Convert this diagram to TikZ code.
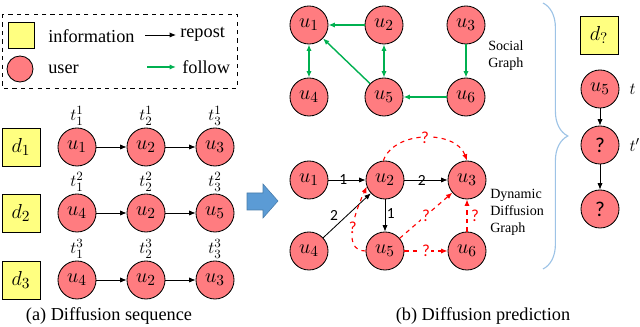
\documentclass[tikz,border=0pt]{standalone}
\usepackage{fontspec}
\setmainfont{Liberation Serif}
\newfontfamily\calibri{Carlito}
\usepackage{amsmath}
\usetikzlibrary{positioning, arrows.meta, decorations.pathreplacing, calc}
\definecolor{UserRed}{RGB}{255,124,128}
\definecolor{InfoYellow}{RGB}{255,255,128}
\definecolor{FollowGreen}{RGB}{0,176,80}
\definecolor{ArrowBlue}{RGB}{91,155,213}
\definecolor{BraceBlue}{RGB}{157,195,230}

\tikzset{
  user/.style={circle, draw, line width=0.6pt, fill=UserRed, minimum size=0.95cm, inner sep=0pt, font=\fontsize{15}{17}\selectfont},
  info/.style={draw, line width=0.6pt, fill=InfoYellow, minimum size=0.95cm, inner sep=0pt, font=\fontsize{15}{17}\selectfont},
  repost/.style={-{Latex[length=1.6mm, width=1.3mm]}, line width=0.6pt},
  follow/.style={-{Latex[length=1.6mm, width=1.3mm]}, FollowGreen, line width=1pt},
  twoway/.style={follow, {Latex[length=1.6mm, width=1.3mm]}-{Latex[length=1.6mm, width=1.3mm]}},
  guess/.style={-{Latex[length=1.6mm, width=1.3mm]}, red, dashed, line width=0.8pt},
  weight/.style={font=\calibri\fontsize{11}{13}\selectfont, inner sep=1pt},
  qmark/.style={text=red, font=\calibri\fontsize{12}{14}\selectfont, inner sep=0.5pt, fill=white},
  stamp/.style={inner sep=0pt, font=\fontsize{13}{15}\selectfont},
  plain/.style={font=\fontsize{13}{15}\selectfont, inner sep=0pt},
  small/.style={font=\fontsize{10}{12}\selectfont, inner sep=0pt, align=left}
}

\begin{document}
\begin{tikzpicture}[x=0.025cm, y=0.025cm]
  \useasboundingbox (0,0) rectangle (640,-327);

  % legend
  \draw[dashed, line width=0.6pt] (2,-14) rectangle (237,-88);
  \node[info, minimum size=0.65cm] (leginfo) at (21,-35) {};
  \node[user, minimum size=0.65cm] (leguser) at (20,-69) {};
  \node[plain, anchor=west] (leginfotext) at (48,-36) {information};
  \node[plain, anchor=west] (legusertext) at (48,-69) {user};
  \coordinate (rp1) at (145,-35);
  \coordinate (rp2) at (176,-35);
  \coordinate (fw1) at (147,-67);
  \coordinate (fw2) at (176,-67);
  \draw[repost] (rp1) -- (rp2);
  \draw[follow] (fw1) -- (fw2);
  \node[plain, anchor=west] (legrepost) at (180,-34) {repost};
  \node[plain, anchor=west] (legfollow) at (182,-67) {follow};

  % (a) diffusion sequences
  \foreach \r/\y/\a/\b/\c in {1/147/1/2/3, 2/213/4/2/5, 3/280/4/2/3} {
    \node[info] (d\r) at (21,-\y) {$d_\r$};
    \node[user] (s\r1) at (77,-\y) {$u_\a$};
    \node[user] (s\r2) at (146,-\y) {$u_\b$};
    \node[user] (s\r3) at (215,-\y) {$u_\c$};
    \foreach \k in {1,2,3}
      \node[stamp, above=1.5pt of s\r\k] (t\r\k) {$t_\k^\r$};
    \draw[repost] (s\r1) -- (s\r2);
    \draw[repost] (s\r2) -- (s\r3);
  }
  \node[plain] (capa) at (109,-316) {(a) Diffusion sequence};

  % big arrow
  \filldraw[fill=ArrowBlue, draw=ArrowBlue!80!black, line width=0.4pt]
    (247,-193) -- (263,-193) -- (263,-184) -- (278,-201) -- (263,-218) -- (263,-210) -- (247,-210) -- cycle;

  % social graph
  \node[user] (a1) at (309,-25) {$u_1$};
  \node[user] (a2) at (384,-25) {$u_2$};
  \node[user] (a3) at (466,-25) {$u_3$};
  \node[user] (a4) at (309,-97) {$u_4$};
  \node[user] (a5) at (384,-97) {$u_5$};
  \node[user] (a6) at (466,-97) {$u_6$};
  \draw[follow] (a2) -- (a1);
  \draw[follow] (a5) -- (a1);
  \draw[twoway] (a1) -- (a4);
  \draw[twoway] (a2) -- (a5);
  \draw[follow] (a3) -- (a6);
  \draw[follow] (a6) -- (a5);
  \node[small, anchor=west] (social) at (488,-56) {Social\\Graph};

  % dynamic diffusion graph
  \node[user] (b1) at (309,-180) {$u_1$};
  \node[user] (b2) at (385,-180) {$u_2$};
  \node[user] (b3) at (467,-180) {$u_3$};
  \node[user] (b4) at (309,-251) {$u_4$};
  \node[user] (b5) at (385,-251) {$u_5$};
  \node[user] (b6) at (467,-251) {$u_6$};
  \draw[repost] (b1) -- node[weight, pos=0.4] {1} (b2);
  \draw[repost] (b2) -- node[weight, pos=0.4] {2} (b3);
  \draw[repost] (b2) -- node[weight, right, pos=0.45] {1} (b5);
  \draw[repost] (b4) -- node[weight, above left, pos=0.35] {2} (b2);
  \draw[guess] (b2.95) to[out=70, in=110] node[qmark, pos=0.5] {?} (b3.90);
  \draw[guess] (b5.west) to[out=180, in=245] node[qmark, pos=0.5] {?} (b2.200);
  \draw[guess] (b5) -- node[qmark, pos=0.5] {?} (b3);
  \draw[guess] (b5) -- node[qmark, pos=0.5] {?} (b6);
  \draw[guess] (b6) -- node[qmark, right=2pt, pos=0.5] {?} (b3);
  \node[small, anchor=west] (dynamic) at (490,-212) {Dynamic\\Diffusion\\Graph};
  \node[plain] (capb) at (483,-316) {(b) Diffusion prediction};

  % brace
  \draw[BraceBlue, line width=0.8pt, decorate, decoration={brace, amplitude=0.62cm}] (543,-3) -- (543,-269);

  % prediction
  \node[info] (dq) at (599,-35) {$d_?$};
  \node[user] (r1) at (600,-89) {$u_5$};
  \node[user] (r2) at (600,-145) {\calibri ?};
  \node[user] (r3) at (600,-209) {\calibri ?};
  \draw[repost] (r1) -- (r2);
  \draw[repost] (r2) -- (r3);
  \node[stamp, right=7pt of r1] (tnow) {$t$};
  \node[stamp, right=7pt of r2] (tnext) {$t'$};
\end{tikzpicture}
\end{document}
